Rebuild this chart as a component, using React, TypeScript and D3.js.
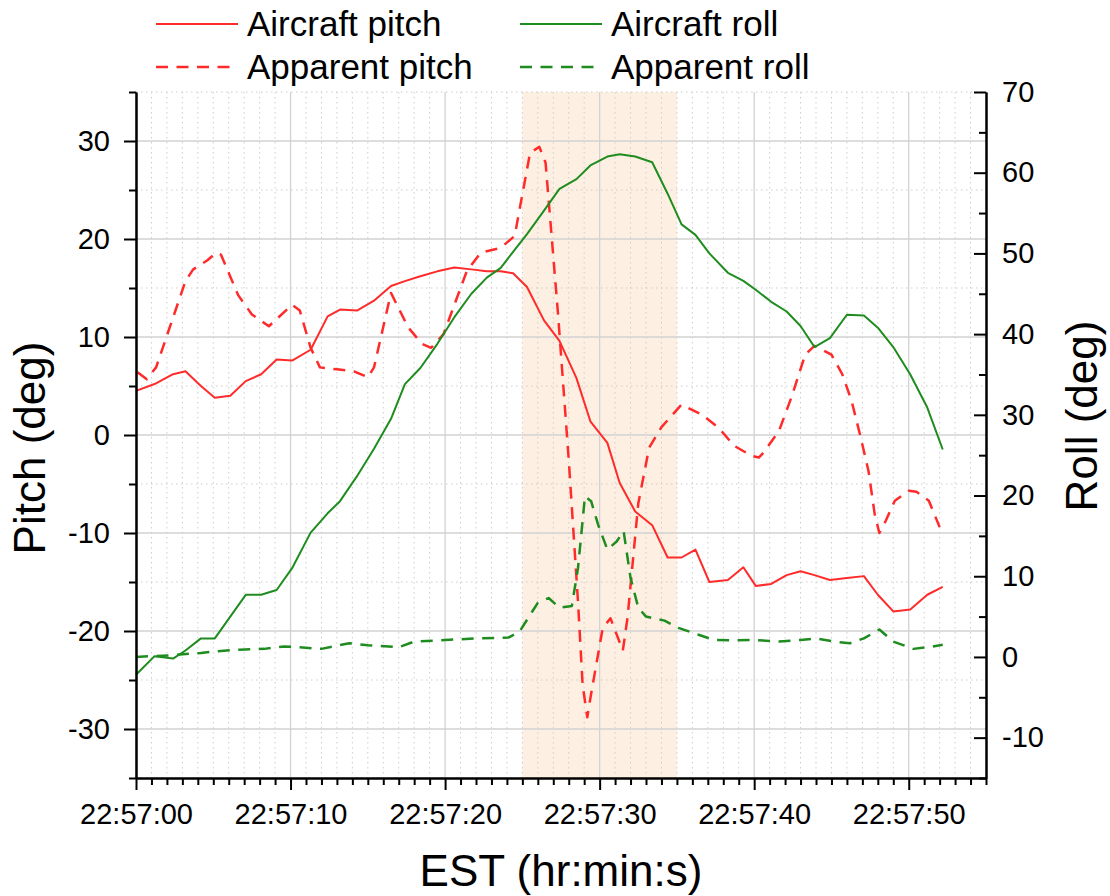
import * as d3 from "d3";
import { useRef, useEffect } from "react";

const width = 1110;
const height = 896;
const marginTop = 92;
const marginBottom = 118;
const marginLeft = 136;
const marginRight = 124;
const font = "'Liberation Sans', Arial, Helvetica, sans-serif";

// seconds after 22:57:00
const aircraftTime = [
  0, 1.2, 2.4, 3.2, 4.2, 5.1, 6.1, 7.1, 8.1, 9.1, 10.1, 11.3, 12.4, 13.2, 14.3,
  15.4, 16.5, 17.4, 18.4, 19.5, 20.6, 21.7, 22.7, 23.6, 24.4, 25.3, 26.4, 27.4,
  28.5, 29.4, 30.5, 31.3, 32.3, 33.4, 34.4, 35.3, 36.2, 37.1, 38.3, 39.3, 40.1,
  41.1, 42.1, 43.0, 43.9, 44.9, 46.0, 47.1, 48.0, 49.0, 50.1, 51.2, 52.2,
];
const aircraftPitch = [
  4.5, 5.2, 6.2, 6.5, 5.0, 3.8, 4.0, 5.5, 6.2, 7.7, 7.6, 8.7, 12.1, 12.8, 12.7,
  13.7, 15.2, 15.7, 16.2, 16.7, 17.1, 16.9, 16.7, 16.7, 16.5, 15.1, 11.7, 9.6,
  5.8, 1.4, -0.8, -4.9, -7.8, -9.2, -12.5, -12.5, -11.7, -15.0, -14.8, -13.5,
  -15.4, -15.2, -14.3, -13.9, -14.3, -14.8, -14.6, -14.4, -16.3, -18.0, -17.8,
  -16.3, -15.5,
];
const aircraftRoll = [
  -2.2, 0.1, -0.2, 0.8, 2.3, 2.3, 5.0, 7.7, 7.7, 8.3, 11.0, 15.4, 17.8, 19.3,
  22.4, 25.8, 29.5, 33.8, 35.8, 38.8, 42.1, 45.0, 47.0, 48.2, 50.2, 52.4, 55.3,
  58.0, 59.2, 60.9, 62.0, 62.3, 62.0, 61.3, 57.4, 53.6, 52.3, 50.0, 47.6, 46.6,
  45.5, 44.0, 42.8, 41.0, 38.4, 39.5, 42.4, 42.3, 40.8, 38.4, 35.0, 30.9, 25.7,
];

const apparentPitchTime = [
  0.1, 0.7, 1.3, 3.2, 3.7, 4.6, 5.2, 5.5, 6.6, 7.5, 8.6, 10.1, 10.6, 11.3, 11.9,
  13.0, 14.1, 15.0, 15.4, 16.5, 17.6, 18.5, 19.1, 19.9, 21.4, 22.3, 23.6, 24.5,
  25.5, 26.1, 26.5, 27.3, 28.0, 28.6, 28.9, 29.2, 29.45, 30.2, 30.7, 31.5, 31.8,
  32.5, 33.2, 34.0, 35.3, 36.6, 37.7, 38.7, 39.8, 40.3, 40.6, 41.6, 42.4, 43.3,
  43.9, 45.0, 45.7, 46.3, 46.9, 47.4, 47.8, 48.1, 48.5, 49.1, 50.0, 50.5, 51.3,
  52.0,
];
const apparentPitch = [
  6.4, 5.7, 6.9, 15.7, 16.9, 17.8, 18.6, 18.4, 14.3, 12.3, 11.1, 13.3, 12.7, 8.9,
  6.9, 6.7, 6.5, 5.9, 6.9, 14.5, 11.0, 9.3, 8.9, 10.3, 16.7, 18.6, 19.1, 20.3,
  28.8, 29.4, 27.8, 12.5, -2.5, -17.0, -25.5, -28.8, -26.4, -19.7, -18.7, -22.0,
  -18.7, -7.0, -1.3, 0.8, 3.1, 2.1, 0.75, -1.1, -2.1, -2.3, -1.8, 0.4, 3.8, 8.2,
  9.1, 8.2, 6.2, 3.5, -0.3, -3.7, -8.1, -10.0, -8.8, -6.7, -5.7, -5.8, -6.7,
  -9.4,
];

const apparentRollTime = [
  0, 2.2, 4.2, 5.2, 6.7, 8.3, 9.6, 10.6, 12.0, 13.8, 15.0, 17.0, 18.0, 20.0,
  22.0, 24.1, 24.8, 26.0, 26.7, 27.4, 28.2, 28.6, 29.05, 29.45, 29.9, 30.5, 31.1,
  31.55, 32.0, 32.5, 33.0, 34.2, 35.1, 36.4, 37.4, 38.7, 40.1, 41.6, 43.0, 44.0,
  45.2, 46.2, 47.1, 48.1, 49.0, 50.3, 51.4, 52.2,
];
const apparentRoll = [
  0.0, 0.2, 0.5, 0.7, 0.9, 1.0, 1.3, 1.2, 1.0, 1.7, 1.45, 1.2, 1.9, 2.1, 2.3,
  2.4, 3.1, 6.7, 7.3, 6.1, 6.3, 11.0, 19.9, 19.3, 16.4, 13.3, 14.3, 15.6, 9.8,
  6.1, 5.0, 4.5, 3.6, 2.75, 2.1, 2.05, 2.1, 1.9, 2.1, 2.3, 1.9, 1.7, 2.3, 3.4,
  1.9, 1.0, 1.25, 1.5,
];

const xDomain = [0, 55];
const xTicks = [0, 10, 20, 30, 40, 50];
const xTickLabels = ["22:57:00", "22:57:10", "22:57:20", "22:57:30", "22:57:40", "22:57:50"];
const pitchDomain = [-35, 35];
const pitchTicks = [-30, -20, -10, 0, 10, 20, 30];
const rollDomain = [-15, 70];
const rollTicks = [-10, 0, 10, 20, 30, 40, 50, 60, 70];
const highlight = [25, 35];
const legendLabels = ["Aircraft pitch", "Apparent pitch", "Aircraft roll", "Apparent roll"];

const red = "#ff2a2a";
const green = "#1f8c1f";
const dash = "12,8.5";

function styleAxis(g) {
  g.selectAll("path, line").attr("stroke", "#000").attr("stroke-width", 2);
  g.selectAll("text")
    .attr("fill", "#000")
    .style("font-family", font)
    .style("font-size", "29px");
}

export default function App() {
  const gx = useRef(null);
  const gy = useRef(null);
  const gy2 = useRef(null);

  const x = d3.scaleLinear(xDomain, [marginLeft, width - marginRight]);
  const y = d3.scaleLinear(pitchDomain, [height - marginBottom, marginTop]);
  const y2 = d3.scaleLinear(rollDomain, [height - marginBottom, marginTop]);

  const minorX = d3.range(0, 56).filter((d) => d % 10 !== 0);
  const minorPitch = d3.range(-35, 36, 10);
  const minorRoll = d3.range(-15, 70, 10);

  useEffect(() => {
    const g = d3.select(gx.current);
    g.selectAll("*").remove();
    g.append("g").call(
      d3.axisBottom(x).tickValues(minorX).tickSize(7).tickSizeOuter(0).tickFormat(() => "")
    );
    g.append("g").call(
      d3
        .axisBottom(x)
        .tickValues(xTicks)
        .tickSize(12)
        .tickSizeOuter(0)
        .tickPadding(13)
        .tickFormat((d, i) => xTickLabels[i])
    );
    styleAxis(g);
  }, []);

  useEffect(() => {
    const g = d3.select(gy.current);
    g.selectAll("*").remove();
    g.append("g").call(
      d3.axisLeft(y).tickValues(minorPitch).tickSize(7).tickSizeOuter(0).tickFormat(() => "")
    );
    g.append("g").call(
      d3
        .axisLeft(y)
        .tickValues(pitchTicks)
        .tickSize(12)
        .tickSizeOuter(0)
        .tickPadding(14)
        .tickFormat((d) => String(d))
    );
    styleAxis(g);
  }, []);

  useEffect(() => {
    const g = d3.select(gy2.current);
    g.selectAll("*").remove();
    g.append("g").call(
      d3.axisRight(y2).tickValues(minorRoll).tickSizeInner(-7).tickSizeOuter(0).tickFormat(() => "")
    );
    g.append("g").call(
      d3
        .axisRight(y2)
        .tickValues(rollTicks)
        .tickSizeInner(-12)
        .tickSizeOuter(0)
        .tickPadding(16)
        .tickFormat((d) => String(d))
    );
    styleAxis(g);
  }, []);

  const pitchLine = d3
    .line()
    .x((d) => x(d[0]))
    .y((d) => y(d[1]));
  const rollLine = d3
    .line()
    .x((d) => x(d[0]))
    .y((d) => y2(d[1]));

  const series = [
    { d: pitchLine(d3.zip(aircraftTime, aircraftPitch)), color: red, dashed: false },
    { d: pitchLine(d3.zip(apparentPitchTime, apparentPitch)), color: red, dashed: true },
    { d: rollLine(d3.zip(aircraftTime, aircraftRoll)), color: green, dashed: false },
    { d: rollLine(d3.zip(apparentRollTime, apparentRoll)), color: green, dashed: true },
  ];

  const legendPos = [
    [156, 24],
    [156, 67],
    [520, 24],
    [520, 67],
  ];

  const top = marginTop;
  const bottom = height - marginBottom;
  const left = marginLeft;
  const right = width - marginRight;

  return (
    <svg
      width={width}
      height={height}
      style={{ position: "absolute", left: 0, top: 0, background: "#fff" }}
    >
      <rect
        x={x(highlight[0])}
        y={top}
        width={x(highlight[1]) - x(highlight[0])}
        height={bottom - top}
        fill="#fdf0e2"
      />
      {minorX.map((d) => (
        <line key={"vx" + d} x1={x(d)} x2={x(d)} y1={top} y2={bottom}
          stroke="#cdcdcd" strokeWidth={1} strokeDasharray="1.5,3.5" />
      ))}
      {minorPitch.map((d) => (
        <line key={"hy" + d} x1={left} x2={right} y1={y(d)} y2={y(d)}
          stroke="#cdcdcd" strokeWidth={1} strokeDasharray="1.5,3.5" />
      ))}
      {xTicks.map((d) => (
        <line key={"VX" + d} x1={x(d)} x2={x(d)} y1={top} y2={bottom}
          stroke="#d2d2d2" strokeWidth={1.3} />
      ))}
      {pitchTicks.map((d) => (
        <line key={"HY" + d} x1={left} x2={right} y1={y(d)} y2={y(d)}
          stroke="#d2d2d2" strokeWidth={1.3} />
      ))}

      {series.map((s, i) => (
        <path key={i} d={s.d} fill="none" stroke={s.color}
          strokeWidth={s.dashed ? 2.5 : 2}
          strokeDasharray={s.dashed ? dash : undefined}
          strokeLinejoin="round" />
      ))}

      <g ref={gx} transform={`translate(0,${bottom})`} />
      <g ref={gy} transform={`translate(${left},0)`} />
      <g ref={gy2} transform={`translate(${right},0)`} />

      {legendLabels.map((label, i) => {
        const [lx, ly] = legendPos[i];
        const s = series[i];
        return (
          <g key={label}>
            <line x1={lx} x2={lx + 82} y1={ly} y2={ly} stroke={s.color}
              strokeWidth={s.dashed ? 2.5 : 2}
              strokeDasharray={s.dashed ? dash : undefined} />
            <text x={lx + 91} y={ly + 12} fontFamily={font} fontSize={35} fill="#000">
              {label}
            </text>
          </g>
        );
      })}

      <text x={(left + right) / 2} y={886} textAnchor="middle"
        fontFamily={font} fontSize={44} fill="#000">
        EST (hr:min:s)
      </text>
      <text transform="translate(45,448) rotate(-90)" textAnchor="middle"
        fontFamily={font} fontSize={44} fill="#000">
        Pitch (deg)
      </text>
      <text transform="translate(1097,416) rotate(-90)" textAnchor="middle"
        fontFamily={font} fontSize={44} fill="#000">
        Roll (deg)
      </text>
    </svg>
  );
}
